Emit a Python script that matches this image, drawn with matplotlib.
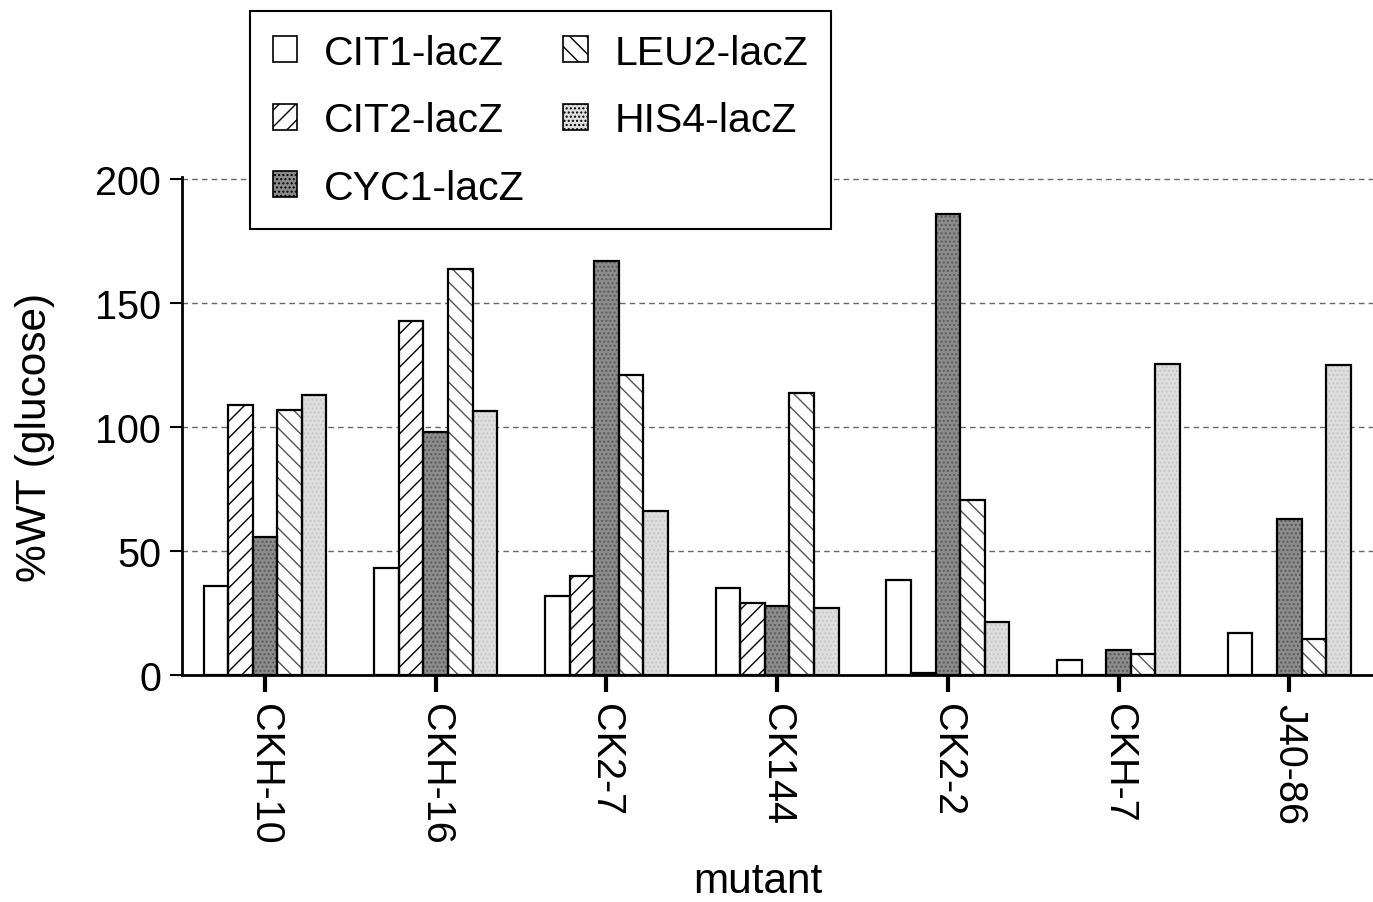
import numpy as np
import matplotlib
matplotlib.use("Agg")
import matplotlib.pyplot as plt
from matplotlib.patches import Patch

plt.rcParams["font.family"] = ["Liberation Sans", "DejaVu Sans"]
plt.rcParams["hatch.linewidth"] = 1.0

# data
mutants = ["CKH-10", "CKH-16", "CK2-7", "CK144", "CK2-2", "CKH-7", "J40-86"]
series = ["CIT1-lacZ", "CIT2-lacZ", "CYC1-lacZ", "LEU2-lacZ", "HIS4-lacZ"]
cit1 = [36, 43, 32, 35, 38.5, 6, 17]
cit2 = [109, 143, 40, 29, 0.8, 0, 0]
cyc1 = [55.5, 98, 167, 28, 186, 10, 63]
leu2 = [107, 164, 121, 114, 70.5, 8.5, 14.5]
his4 = [113, 106.5, 66, 27, 21.5, 125.5, 125]
yticks = [0, 50, 100, 150, 200]

# face colour, hatch, hatch colour
styles = [
    ("white", "", "black"),
    ("white", "//", "black"),
    ("#8c8c8c", "....", "#5a5a5a"),
    ("white", "\\\\", "#555555"),
    ("#dedede", "....", "#c8c8c8"),
]

fig = plt.figure(figsize=(13.73, 9.03), dpi=100)
ax = fig.add_axes([182 / 1373, 227 / 903, 1 - 182 / 1373, (676 - 178) / 903])

x = np.arange(len(mutants))
w = 0.144
vals = [cit1, cit2, cyc1, leu2, his4]
for i, (v, (fc, h, hc)) in enumerate(zip(vals, styles)):
    xs = x + (i - 2) * w
    ax.bar(xs, v, w, color=fc, hatch=h, edgecolor=hc, linewidth=0, zorder=2)
    ax.bar(xs, v, w, fill=False, edgecolor="black", linewidth=1.6, zorder=3)

ax.set_xlim(-0.486, 6.49)
ax.set_ylim(0, 201)
ax.set_yticks(yticks)
ax.set_xticks(x)
ax.set_xticklabels(mutants, rotation=270, fontsize=28.5)
ax.tick_params(axis="y", labelsize=28.5, length=9, width=1.5, pad=6)
ax.tick_params(axis="x", length=12, width=3, pad=8)
ax.yaxis.grid(True, linestyle=(0, (4, 3)), color="#666666", linewidth=1.0, zorder=0)
ax.set_axisbelow(True)
for s in ["top", "right"]:
    ax.spines[s].set_visible(False)
ax.spines["left"].set_linewidth(2)
ax.spines["bottom"].set_linewidth(2)

fig.text(35 / 1373, 1 - 437 / 903, "%WT (glucose)", fontsize=30.5, rotation=90,
         ha="center", va="center")
fig.text(758 / 1373, 1 - 882 / 903, "mutant", fontsize=30.5, ha="center", va="center")

handles = [Patch(facecolor=fc, hatch=h, edgecolor="black", linewidth=1.2)
           for fc, h, hc in styles]
leg = fig.legend(handles, series, loc="upper left", ncol=2,
                 bbox_to_anchor=(250 / 1373, 1 - 12 / 903), bbox_transform=fig.transFigure,
                 fontsize=29.5, frameon=True, fancybox=False, framealpha=1,
                 edgecolor="black", handlelength=0.6, handleheight=0.6,
                 handletextpad=0.65, labelspacing=0.72, columnspacing=0.95,
                 borderpad=0.55, borderaxespad=0)
leg.get_frame().set_linewidth(1.5)

fig.savefig("out.png", dpi=100)
